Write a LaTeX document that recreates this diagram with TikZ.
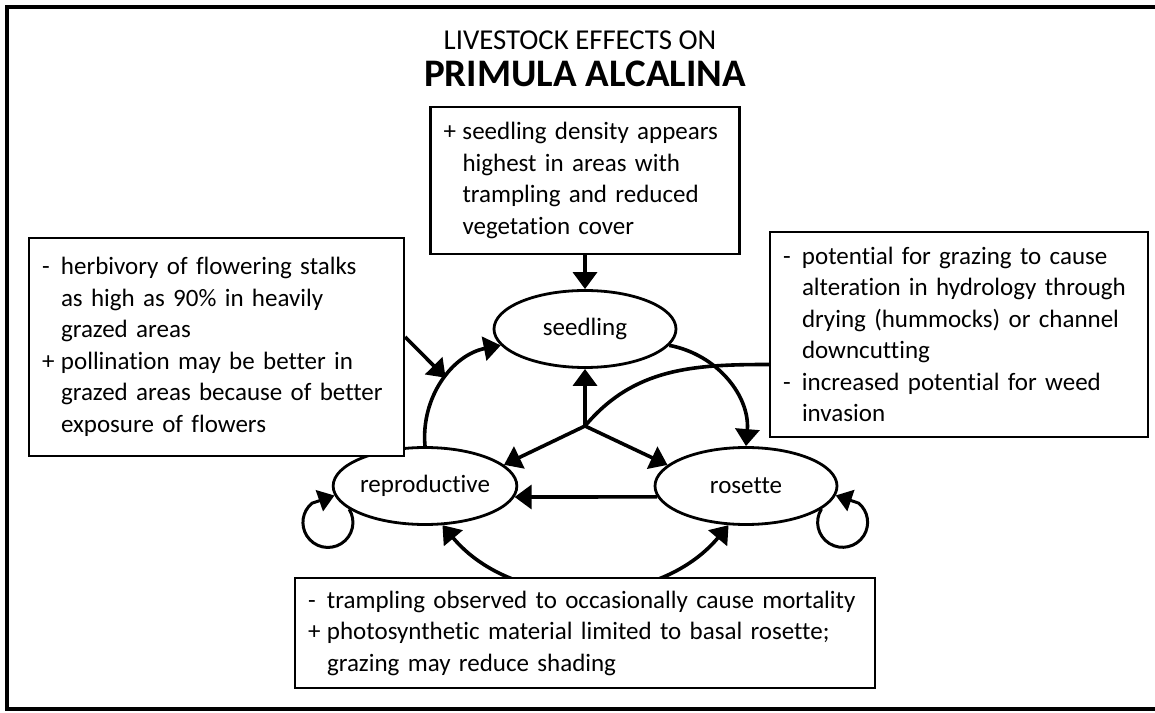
\documentclass[tikz,border=0pt]{standalone}
\usepackage{fontspec}
\setmainfont{Carlito}[Ligatures=NoCommon]
\usepackage{tikz}
\usetikzlibrary{arrows.meta,positioning,shapes.geometric}
\newlength{\sgnw}\setlength{\sgnw}{9.5pt}
\newcommand{\sgn}[1]{\makebox[\sgnw][l]{#1}}
\newcommand{\indt}{\hspace*{\sgnw}}

\begin{document}
\begin{tikzpicture}[x=0.5pt,y=0.5pt,every node/.style={font=\fontsize{12.5}{15.75}\selectfont},note/.style={draw,line width=1.2pt,fill=white,align=left,inner xsep=6.5pt,inner ysep=0pt},stage/.style={draw,ellipse,line width=1.4pt,minimum width=91pt,minimum height=38.5pt,inner sep=0pt},arr/.style={-{Triangle[length=8.5pt,width=12pt]},line width=1.8pt},link/.style={line width=1.8pt},loopy/.style={-{Triangle[length=8pt,width=11pt]},line width=1.5pt},both/.style={{Triangle[length=8.5pt,width=12pt]}-{Triangle[length=8.5pt,width=12pt]},line width=1.8pt}]
\useasboundingbox (0,0) rectangle (1155,712);
\draw[line width=2pt] (1155,705) -- (7,705) -- (7,3) -- (1155,3);
\node[font=\fontsize{14.4}{17}\selectfont] (ttl) at (580,672) {LIVESTOCK EFFECTS ON};
\node[font=\fontsize{19.5}{22}\selectfont\bfseries] (ttlb) at (585,638.5) {PRIMULA ALCALINA};
\node[stage] (seed) at (585,383) {seedling};
\node[stage] (rep) at (425,226) {reproductive};
\node[stage] (ros) at (746,226) {rosette};
\node[note,text width=141.5pt,minimum height=73.5pt] (tbox) at (585,531.5) {\sgn{+}seedling density appears\\\indt highest in areas with\\\indt trampling and reduced\\\indt vegetation cover};
\node[note,text width=174.5pt,minimum height=109pt] (lbox) at (216.5,365) {\sgn{-}herbivory of flowering stalks\\\indt as high as 90\% in heavily\\\indt grazed areas\\\sgn{+}pollination may be better in\\\indt grazed areas because of better\\\indt exposure of flowers};
\node[note,text width=176pt,minimum height=102.5pt] (rbox) at (959,377.5) {\sgn{-}potential for grazing to cause\\\indt alteration in hydrology through\\\indt drying (hummocks) or channel\\\indt downcutting\\\sgn{-}increased potential for weed\\\indt invasion};
\coordinate (J) at (585,286);
\draw[arr] (tbox.south) -- (seed.north);
\draw[arr] (rep.north) to[bend left=42] coordinate[pos=0.53] (hit) (seed.191);
\draw[arr] (seed.-11) to[bend left=42] (ros.north);
\draw[arr] ([yshift=5pt]lbox.east) -- (hit);
\draw[link] ([yshift=-15pt]rbox.west) to[out=180,in=50] (J);
\draw[arr] (J) -- (seed.south);
\draw[arr] (J) -- (rep.15);
\draw[arr] (J) -- (ros.165);
\draw[arr] (ros.187) -- (rep.-7);
\draw[loopy] (rep.197) arc[start angle=32,end angle=-230,radius=25] -- (rep.186);
\draw[loopy] (ros.-17) arc[start angle=148,end angle=410,radius=25] -- (ros.-6);
\draw[both] (rep.-66) to[out=-50,in=230] (ros.246);
\node[note,text width=277pt,minimum height=55pt] (bbox) at (585,79) {\sgn{-}trampling observed to occasionally cause mortality\\\sgn{+}photosynthetic material limited to basal rosette;\\\indt grazing may reduce shading};
\end{tikzpicture}
\end{document}
